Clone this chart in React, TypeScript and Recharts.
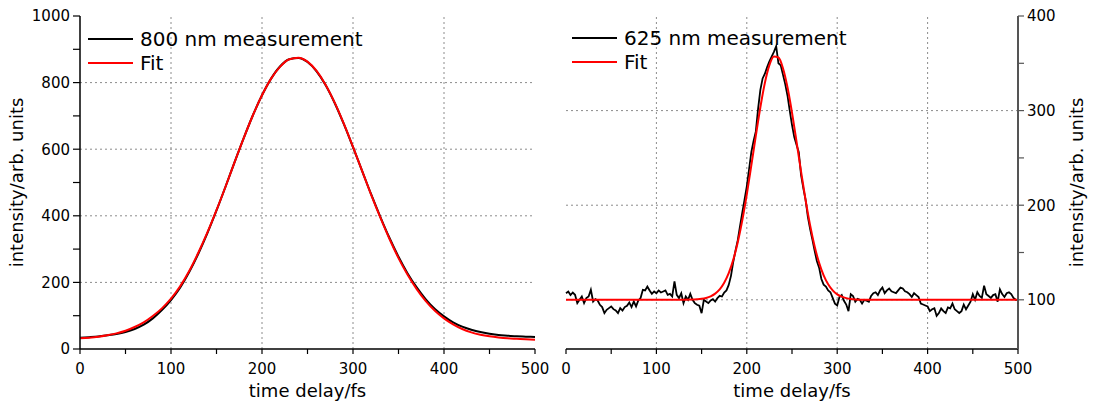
import React from 'react';
import { LineChart, Line, XAxis, YAxis, ReferenceLine } from 'recharts';

const FONT = '"DejaVu Sans", "Liberation Sans", sans-serif';

// shared time axis
const TIME_TICKS = [0, 50, 100, 150, 200, 250, 300, 350, 400, 450, 500];
const TIME_GRID = [100, 200, 300, 400];

// left panel: 800 nm
const LEFT_Y_TICKS = [0, 100, 200, 300, 400, 500, 600, 700, 800, 900, 1000];
const LEFT_Y_GRID = [200, 400, 600, 800];
const TIME_800 = [
  0, 10, 20, 30, 40, 50, 60, 70, 80, 90, 100, 110, 120, 130, 140, 150, 160, 170, 180, 190, 200,
  210, 220, 230, 240, 250, 260, 270, 280, 290, 300, 310, 320, 330, 340, 350, 360, 370, 380, 390,
  400, 410, 420, 430, 440, 450, 460, 470, 480, 490, 500,
];
const MEAS_800 = [
  34, 35.5, 37.5, 41, 45, 51, 60, 73, 92, 117, 147, 184, 231, 286, 348, 416, 488, 562, 634, 702,
  762, 812, 849, 870, 874, 862, 834, 792, 738, 675, 606, 535, 464, 397, 334, 277, 227, 185, 149,
  120, 98, 80, 67, 58, 51, 46, 42, 40, 38, 37, 36,
];
const FIT_800 = [
  32, 34, 37, 41.5, 47, 55, 66, 80, 99, 122, 151, 188, 234, 289, 350, 417, 488, 562, 634, 702,
  762, 812, 848, 870, 875, 863, 835, 793, 739, 676, 607, 535, 463, 395, 331, 273, 223, 180, 144,
  115, 92, 74, 60, 50, 43, 38, 34.5, 32, 30.5, 29, 28,
];

// right panel: 625 nm
const RIGHT_Y_TICKS = [100, 150, 200, 250, 300, 350, 400];
const RIGHT_Y_GRID = [100, 200, 300];
const STEP_625 = 2.5;
const MEAS_625 = [
  107, 108.8, 105, 107.7, 105.3, 96.5, 100, 103.5, 96.5, 101.8,
  103.5, 110.6, 98.2, 100.7, 99.3, 94.7, 92.3, 85.9, 89.4, 91.2,
  93, 90.1, 88.7, 85.9, 91.2, 88.7, 92.3, 93.7, 97.2, 92.3,
  98.2, 93, 99.3, 101.8, 110.6, 109.9, 114, 109.9, 106.3, 108.8,
  107, 109.9, 107.7, 108.8, 109.9, 105.3, 106.3, 103.5, 119.4, 105.3,
  101.8, 107, 96.5, 103.5, 100, 106.3, 100, 96.5, 94.7, 93.7,
  85.9, 100, 98.2, 96.5, 99.3, 100.7, 98.2, 101.8, 104.2, 103.5,
  107.7, 109.9, 115.8, 125.3,
  140, 152, 163, 178, 192, 206, 220, 238, 256, 268,
  278, 302, 322, 334, 339, 346, 352, 357, 362, 368,
  350, 348, 338, 328, 316, 300, 285, 272, 264, 256,
  232, 218, 206, 188, 175, 164, 152, 141, 134, 122,
  116,
  114, 110, 108, 102, 96, 94, 103, 105, 99, 95,
  88, 106, 104, 98, 101, 100, 96, 100, 99, 98,
  104, 107, 108, 105, 110, 113, 107, 110, 112, 109,
  108, 107, 110, 113, 112, 109, 108, 106, 103, 107,
  105, 103, 96, 95, 94, 93, 88, 90, 91, 83,
  86, 91, 88, 86, 92, 91, 96, 90, 88, 86,
  88, 95, 90, 94, 98, 106, 100, 108, 104, 102,
  115, 106, 104, 102, 105, 106, 98, 111, 106, 103,
  107, 108, 106, 102, 100, 100,
];
const FIT_625_TIME = [
  0, 50, 100, 130, 140, 145, 150, 155, 160, 165, 170, 175, 180, 185, 190, 195, 200, 205, 210, 215,
  220, 225, 230, 235, 240, 245, 250, 255, 260, 265, 270, 275, 280, 285, 290, 295, 300, 305, 310,
  315, 320, 330, 400, 500,
];
const FIT_625 = [
  100, 100, 100, 100.1, 100.2, 100.5, 101, 102, 103.7, 106.5, 111, 118, 128.1, 142.2, 160.8, 184,
  211.5, 242, 273.5, 303.5, 329.3, 348, 357.1, 356.1, 344.8, 324.7, 297.9, 267.2, 235.7, 205.7,
  179, 156.7, 139, 125.8, 116.4, 110, 105.8, 103.3, 101.8, 100.9, 100.4, 100.1, 100, 100,
];

const rows800 = TIME_800.map((t, i) => ({ t, meas: MEAS_800[i], fit: FIT_800[i] }));
const rows625 = MEAS_625.map((v, i) => ({ t: i * STEP_625, v }));
const fitRows625 = FIT_625_TIME.map((t, i) => ({ t, v: FIT_625[i] }));

const TICK = { fontSize: 15, fill: '#000', fontFamily: FONT };
const TITLE = { fontSize: 18, fill: '#000', fontFamily: FONT, textAnchor: 'middle' as const };
const AXIS = { stroke: '#000', strokeWidth: 1.5 };
const TL = { stroke: '#000', strokeWidth: 1.2 };
const GRID = { stroke: '#8c8c8c', strokeDasharray: '2 3', strokeWidth: 1 };

const every = (n: number) => (v: number) => (v % n === 0 ? String(v) : '');

function LeftPanel() {
  return (
    <LineChart width={560} height={405} margin={{ top: 16, right: 25, bottom: 0, left: 13 }}>
      <XAxis
        xAxisId="b"
        type="number"
        dataKey="t"
        domain={[0, 500]}
        ticks={TIME_TICKS}
        interval={0}
        tickFormatter={every(100)}
        height={56}
        tickSize={5}
        tickMargin={9}
        tick={TICK}
        axisLine={AXIS}
        tickLine={TL}
        label={{ value: 'time delay/fs', position: 'insideBottom', offset: 8, style: TITLE }}
      />
      <XAxis xAxisId="top" orientation="top" type="number" domain={[0, 500]} height={0} axisLine={AXIS} tick={false} tickLine={false} />
      <YAxis
        yAxisId="l"
        type="number"
        domain={[0, 1000]}
        ticks={LEFT_Y_TICKS}
        interval={0}
        tickFormatter={every(200)}
        width={67}
        tickSize={7}
        tickMargin={3}
        tick={TICK}
        axisLine={AXIS}
        tickLine={TL}
        label={{ value: 'intensity/arb. units', angle: -90, position: 'insideLeft', offset: 4, style: TITLE }}
      />
      <YAxis yAxisId="rm" orientation="right" type="number" domain={[0, 1000]} ticks={LEFT_Y_TICKS} width={0} mirror tick={false} tickSize={3} axisLine={AXIS} tickLine={TL} />
      {TIME_GRID.map((v) => (
        <ReferenceLine key={'x' + v} x={v} xAxisId="b" yAxisId="l" {...GRID} />
      ))}
      {LEFT_Y_GRID.map((v) => (
        <ReferenceLine key={'y' + v} y={v} xAxisId="b" yAxisId="l" {...GRID} />
      ))}
      <Line data={rows800} dataKey="meas" xAxisId="b" yAxisId="l" type="monotone" stroke="#000" strokeWidth={2} dot={false} isAnimationActive={false} />
      <Line data={rows800} dataKey="fit" xAxisId="b" yAxisId="l" type="monotone" stroke="#ff0000" strokeWidth={2} dot={false} isAnimationActive={false} />
    </LineChart>
  );
}

function RightPanel() {
  return (
    <LineChart width={548} height={405} margin={{ top: 16, right: 0, bottom: 0, left: 21 }}>
      <XAxis
        xAxisId="b"
        type="number"
        dataKey="t"
        domain={[0, 500]}
        ticks={TIME_TICKS}
        interval={0}
        tickFormatter={every(100)}
        height={56}
        tickSize={5}
        tickMargin={9}
        tick={TICK}
        axisLine={AXIS}
        tickLine={TL}
        label={{ value: 'time delay/fs', position: 'insideBottom', offset: 8, style: TITLE }}
      />
      <XAxis xAxisId="top" orientation="top" type="number" domain={[0, 500]} ticks={TIME_TICKS} height={0} mirror tick={false} tickSize={4} axisLine={AXIS} tickLine={TL} />
      <YAxis yAxisId="lm" orientation="left" type="number" domain={[48, 400]} ticks={RIGHT_Y_TICKS} width={0} mirror tick={false} tickSize={4} axisLine={AXIS} tickLine={TL} />
      <YAxis
        yAxisId="r"
        orientation="right"
        type="number"
        domain={[48, 400]}
        ticks={RIGHT_Y_TICKS}
        interval={0}
        tickFormatter={every(100)}
        width={75}
        tickSize={6}
        tickMargin={3}
        tick={TICK}
        axisLine={{ stroke: '#555', strokeWidth: 2 }}
        tickLine={{ stroke: '#555', strokeWidth: 1.2 }}
        label={{ value: 'intensity/arb. units', angle: -90, position: 'insideRight', offset: 16, style: TITLE }}
      />
      {TIME_GRID.map((v) => (
        <ReferenceLine key={'x' + v} x={v} xAxisId="b" yAxisId="r" {...GRID} />
      ))}
      {RIGHT_Y_GRID.map((v) => (
        <ReferenceLine key={'y' + v} y={v} xAxisId="b" yAxisId="r" {...GRID} />
      ))}
      <Line data={rows625} dataKey="v" xAxisId="b" yAxisId="r" type="linear" stroke="#000" strokeWidth={1.8} dot={false} isAnimationActive={false} />
      <Line data={fitRows625} dataKey="v" xAxisId="b" yAxisId="r" type="monotone" stroke="#ff0000" strokeWidth={2} dot={false} isAnimationActive={false} />
    </LineChart>
  );
}

function LegendRows({ x, y, label }: { x: number; y: number; label: string }) {
  return (
    <g fontFamily={FONT} fontSize={20}>
      <line x1={x} x2={x + 45} y1={y} y2={y} stroke="#000" strokeWidth={2} />
      <text x={x + 52} y={y} dominantBaseline="central" fill="#000">{label}</text>
      <line x1={x} x2={x + 45} y1={y + 24} y2={y + 24} stroke="#ff0000" strokeWidth={2} />
      <text x={x + 52} y={y + 24} dominantBaseline="central" fill="#000">Fit</text>
    </g>
  );
}

export default function App() {
  return (
    <div style={{ position: 'absolute', left: 0, top: 0, width: 1093, height: 405, background: '#fff' }}>
      <div style={{ position: 'absolute', left: 0, top: 0 }}>
        <LeftPanel />
      </div>
      <div style={{ position: 'absolute', left: 545, top: 0 }}>
        <RightPanel />
      </div>
      <svg width={1093} height={405} style={{ position: 'absolute', left: 0, top: 0, pointerEvents: 'none' }}>
        <LegendRows x={88} y={39} label="800 nm measurement" />
        <LegendRows x={572} y={38} label="625 nm measurement" />
      </svg>
    </div>
  );
}
